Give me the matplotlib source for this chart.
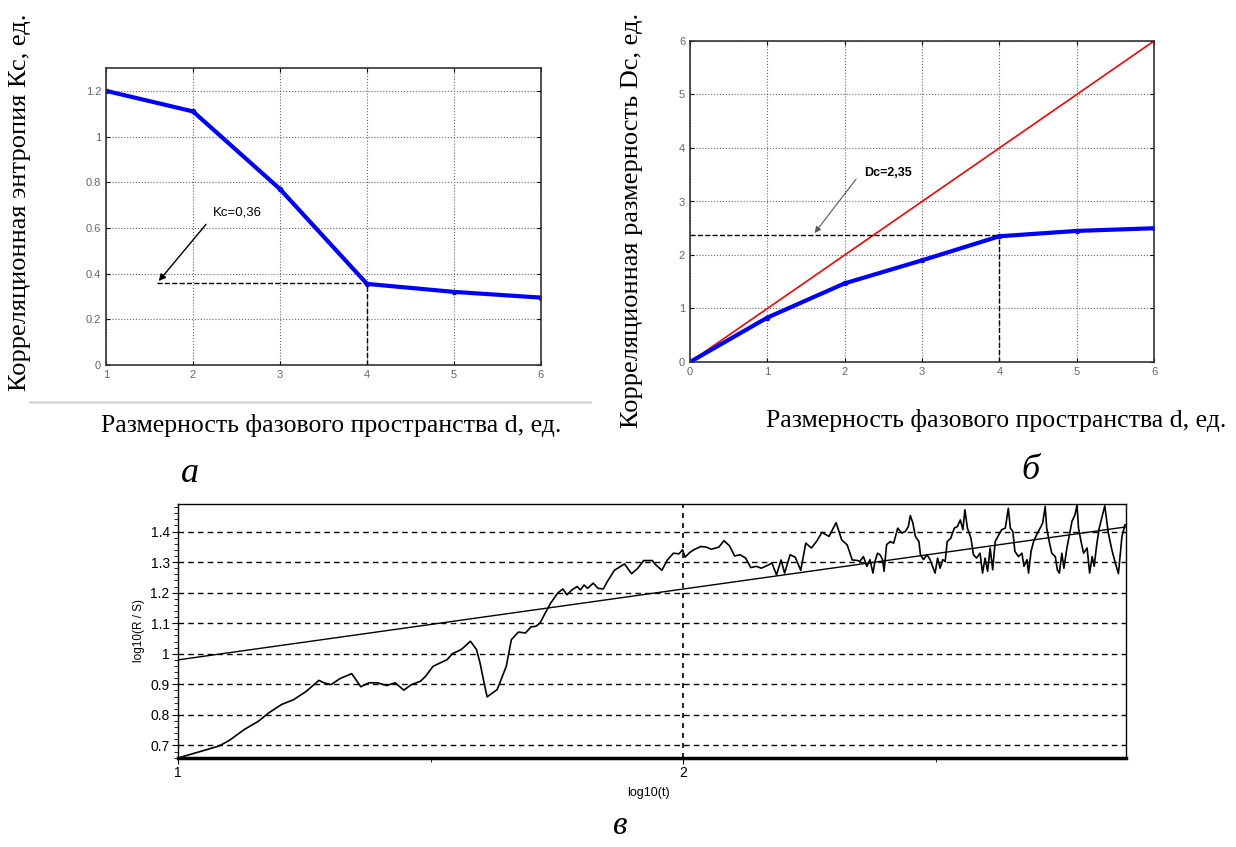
import numpy as np
import matplotlib.pyplot as plt
from matplotlib.lines import Line2D
from matplotlib.ticker import MultipleLocator, FixedLocator

# --- data: panel a (correlation entropy) ---
d_a = [1, 2, 3, 4, 5, 6]
kc = [1.2, 1.11, 0.77, 0.355, 0.32, 0.295]

# --- data: panel b (correlation dimension) ---
d_b = [0, 1, 2, 3, 4, 5, 6]
dc = [0, 0.83, 1.47, 1.9, 2.35, 2.45, 2.5]
diag = [0, 1, 2, 3, 4, 5, 6]

# --- data: panel v (R/S curve) ---
rs_x = [1.0, 1.081, 1.102, 1.131, 1.159, 1.180, 1.205, 1.229, 1.254, 1.279,
        1.289, 1.303, 1.321, 1.344, 1.362, 1.378, 1.395, 1.413, 1.430, 1.447,
        1.462, 1.480, 1.490, 1.505, 1.519, 1.533, 1.543, 1.561, 1.579, 1.591,
        1.598, 1.606, 1.612, 1.632, 1.650, 1.660, 1.674, 1.688, 1.699, 1.709,
        1.717, 1.727, 1.738, 1.752, 1.762, 1.770, 1.780, 1.790, 1.797, 1.804,
        1.811, 1.822, 1.832, 1.842, 1.850, 1.864, 1.884, 1.898, 1.910, 1.922,
        1.939, 1.946, 1.958, 1.969, 1.981, 1.992, 1.999, 2.004, 2.013, 2.021,
        2.035, 2.046, 2.056, 2.071, 2.081, 2.092, 2.102, 2.113, 2.124, 2.134,
        2.145, 2.155, 2.166, 2.176, 2.185, 2.194, 2.201, 2.212, 2.222, 2.233,
        2.243, 2.254, 2.264, 2.275, 2.289, 2.303, 2.314, 2.325, 2.335, 2.346,
        2.350, 2.357, 2.364, 2.370, 2.376, 2.380, 2.385, 2.390, 2.395, 2.398,
        2.403, 2.410, 2.417, 2.425, 2.433, 2.440, 2.446, 2.450, 2.455, 2.460,
        2.467, 2.470, 2.476, 2.483, 2.489, 2.494, 2.499, 2.504, 2.509, 2.514,
        2.519, 2.523, 2.530, 2.537, 2.543, 2.549, 2.554, 2.558, 2.563, 2.570,
        2.575, 2.581, 2.588, 2.593, 2.598, 2.603, 2.608, 2.613, 2.618, 2.625,
        2.631, 2.638, 2.641, 2.644, 2.648, 2.653, 2.657, 2.664, 2.671, 2.675,
        2.681, 2.684, 2.689, 2.694, 2.700, 2.707, 2.712, 2.717, 2.720, 2.725,
        2.730, 2.737, 2.741, 2.745, 2.750, 2.754, 2.760, 2.765, 2.770, 2.776,
        2.780, 2.783, 2.788, 2.793, 2.800, 2.805, 2.810, 2.814, 2.819, 2.824,
        2.835, 2.842, 2.849, 2.855, 2.862, 2.869, 2.875]
rs_y = [0.659, 0.698, 0.717, 0.752, 0.779, 0.807, 0.834, 0.850, 0.877, 0.913,
        0.905, 0.899, 0.919, 0.935, 0.892, 0.905, 0.905, 0.896, 0.905, 0.881,
        0.899, 0.910, 0.926, 0.959, 0.970, 0.981, 1.000, 1.014, 1.041, 1.014,
        0.970, 0.905, 0.859, 0.883, 0.959, 1.046, 1.071, 1.068, 1.088, 1.090,
        1.101, 1.133, 1.166, 1.199, 1.212, 1.193, 1.209, 1.220, 1.209, 1.225,
        1.214, 1.231, 1.214, 1.212, 1.236, 1.273, 1.294, 1.262, 1.279, 1.305,
        1.305, 1.291, 1.273, 1.307, 1.329, 1.327, 1.340, 1.316, 1.331, 1.340,
        1.351, 1.349, 1.342, 1.349, 1.370, 1.353, 1.320, 1.324, 1.313, 1.282,
        1.286, 1.280, 1.288, 1.297, 1.258, 1.307, 1.264, 1.324, 1.316, 1.273,
        1.362, 1.346, 1.367, 1.397, 1.384, 1.429, 1.373, 1.356, 1.307, 1.305,
        1.302, 1.318, 1.286, 1.308, 1.264, 1.302, 1.329, 1.324, 1.308, 1.270,
        1.357, 1.367, 1.362, 1.411, 1.395, 1.400, 1.416, 1.452, 1.428, 1.384,
        1.367, 1.324, 1.308, 1.324, 1.308, 1.286, 1.264, 1.313, 1.280, 1.308,
        1.302, 1.367, 1.378, 1.411, 1.416, 1.438, 1.406, 1.471, 1.411, 1.378,
        1.324, 1.313, 1.329, 1.264, 1.313, 1.270, 1.346, 1.275, 1.367, 1.389,
        1.406, 1.411, 1.444, 1.476, 1.411, 1.400, 1.335, 1.318, 1.329, 1.286,
        1.308, 1.264, 1.335, 1.367, 1.389, 1.411, 1.428, 1.482, 1.411, 1.367,
        1.329, 1.318, 1.275, 1.264, 1.329, 1.280, 1.346, 1.389, 1.433, 1.455,
        1.487, 1.411, 1.367, 1.329, 1.346, 1.264, 1.318, 1.286, 1.357, 1.411,
        1.484, 1.395, 1.340, 1.302, 1.262, 1.384, 1.422]
fit_x = [1.0, 2.877]
fit_y = [0.98, 1.415]

W, H = 1236, 847
fig = plt.figure(figsize=(12.36, 8.47), dpi=100)
serif = ['Liberation Serif', 'DejaVu Serif']
sans = ['Liberation Sans', 'DejaVu Sans']


def box(l, t, r, b):
    return [l / W, 1 - b / H, (r - l) / W, (b - t) / H]


def matlab_style(ax):
    ax.grid(True, ls=':', color='#666666', lw=0.8)
    ax.tick_params(direction='in', length=3, labelsize=8, labelcolor='#666666',
                   top=True, right=True)
    for lab in ax.get_xticklabels() + ax.get_yticklabels():
        lab.set_family(sans)
    for s in ax.spines.values():
        s.set_color('#333333')
        s.set_linewidth(1.2)


# ---------- a ----------
ax1 = fig.add_axes(box(106, 68, 541, 365))
ax1.plot(d_a, kc, color='blue', lw=3, marker='.', ms=6)
ax1.plot([1.586, 4], [0.36, 0.36], 'k--', lw=1)
ax1.plot([4, 4], [0, 0.355], 'k--', lw=1)
ax1.annotate('', xy=(1.586, 0.358), xytext=(2.17, 0.625),
             arrowprops=dict(arrowstyle='-|>', color='black', lw=1, mutation_scale=10))
ax1.text(2.23, 0.668, 'Kc=0,36', fontsize=9.5, family=sans, va='center')
ax1.set_xlim(1, 6)
ax1.set_ylim(0, 1.3)
ax1.set_xticks(d_a)
ax1.set_yticks([0, 0.2, 0.4, 0.6, 0.8, 1.0, 1.2])
ax1.set_yticklabels(['0', '0.2', '0.4', '0.6', '0.8', '1', '1.2'])
matlab_style(ax1)

fig.text(20 / W, 1 - 202 / H, 'Корреляционная энтропия Кс, ед.', rotation=90,
         fontsize=19, family=serif, ha='center', va='center')
fig.add_artist(Line2D([30 / W, 590 / W], [1 - 402 / H, 1 - 402 / H], color='#d8d8d8', lw=2))
fig.text(331 / W, 1 - 425 / H, 'Размерность фазового пространства d, ед.',
         fontsize=18.5, family=serif, ha='center', va='center')
fig.text(190 / W, 1 - 473 / H, 'а', fontsize=26, family=serif, style='italic',
         ha='center', va='center')

# ---------- b ----------
ax2 = fig.add_axes(box(690, 41, 1154, 362))
ax2.plot(diag, diag, color='red', lw=1.2)
ax2.plot(d_b, dc, color='blue', lw=3, marker='.', ms=6)
ax2.plot([0, 4], [2.37, 2.37], 'k--', lw=1)
ax2.plot([4, 4], [0, 2.35], 'k--', lw=1)
ax2.annotate('', xy=(1.59, 2.37), xytext=(2.17, 3.46),
             arrowprops=dict(arrowstyle='-|>', color='#555555', lw=0.8, mutation_scale=9))
ax2.text(2.25, 3.53, 'Dc=2,35', fontsize=9, family=sans, weight='bold', va='center')
ax2.set_xlim(0, 6)
ax2.set_ylim(0, 6)
ax2.set_xticks(d_b)
ax2.set_yticks(d_b)
matlab_style(ax2)

fig.text(632 / W, 1 - 220 / H, 'Корреляционная размерность Dc, ед.', rotation=90,
         fontsize=19, family=serif, ha='center', va='center')
fig.text(996 / W, 1 - 420 / H, 'Размерность фазового пространства d, ед.',
         fontsize=18.5, family=serif, ha='center', va='center')
fig.text(1030 / W, 1 - 470 / H, 'б', fontsize=26, family=serif, style='italic',
         ha='center', va='center')

# ---------- v ----------
ax3 = fig.add_axes(box(178, 504, 1126, 758))
ax3.plot(rs_x, rs_y, color='black', lw=1.2)
ax3.plot(fit_x, fit_y, color='black', lw=1)
ax3.set_xlim(1, 2.877)
ax3.set_ylim(0.659, 1.49)
ax3.set_xticks([1, 2])
ax3.xaxis.set_minor_locator(FixedLocator([1.5, 2.5]))
ax3.set_yticks([0.7, 0.8, 0.9, 1.0, 1.1, 1.2, 1.3, 1.4])
ax3.set_yticklabels(['0.7', '0.8', '0.9', '1', '1.1', '1.2', '1.3', '1.4'])
ax3.yaxis.set_minor_locator(MultipleLocator(0.02))
ax3.grid(True, axis='y', ls=(0, (4, 3)), color='black', lw=1)
ax3.grid(True, axis='x', which='major', ls=(0, (3, 3)), color='black', lw=1.2)
ax3.tick_params(which='both', direction='out', labelsize=10, pad=2)
ax3.tick_params(which='major', length=4)
ax3.tick_params(which='minor', length=3)
for lab in ax3.get_xticklabels() + ax3.get_yticklabels():
    lab.set_family(sans)
for s in ax3.spines.values():
    s.set_linewidth(1)
ax3.spines['bottom'].set_linewidth(2.5)

fig.text(139 / W, 1 - 630 / H, 'log10(R / S)', rotation=90, fontsize=8.5,
         family=sans, ha='center', va='center')
fig.text(648 / W, 1 - 793 / H, 'log10(t)', fontsize=9, family=sans,
         ha='center', va='center')
fig.text(620 / W, 1 - 826 / H, 'в', fontsize=24, family=serif, style='italic',
         ha='center', va='center')

fig.savefig('out.png', dpi=100)
